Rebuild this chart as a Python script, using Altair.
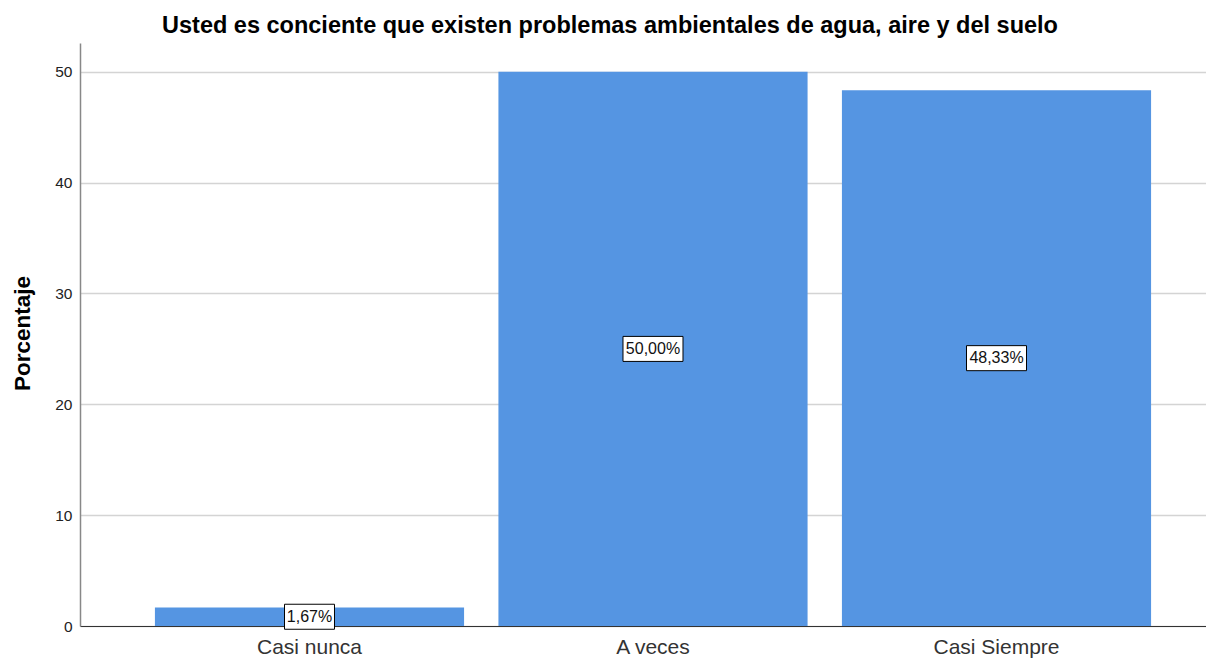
import altair as alt
import pandas as pd

categories = ["Casi nunca", "A veces", "Casi Siempre"]
values = [1.67, 50.00, 48.33]
labels = ["1,67%", "50,00%", "48,33%"]

df = pd.DataFrame({"cat": categories, "val": values, "lab": labels})
df["mid"] = df["val"] / 2

FONT = "Liberation Sans"

x = alt.X("cat:N", sort=categories,
          scale=alt.Scale(paddingInner=0.1, paddingOuter=0.189, align=0.577),
          axis=alt.Axis(title=None, labelAngle=0, labelFontSize=21, labelColor="#333333",
                        labelFont=FONT, ticks=False, domainColor="#333333", domainWidth=1,
                        labelPadding=10, grid=False))

y = alt.Y("val:Q", scale=alt.Scale(domain=[0, 52.6], nice=False),
          axis=alt.Axis(title="Porcentaje", values=[0, 10, 20, 30, 40, 50], ticks=False,
                        labelFontSize=15.5, labelColor="#222222", labelFont=FONT, labelPadding=8,
                        titleFont=FONT, titleFontSize=22.5, titleFontWeight="bold", titleColor="#000000",
                        titleX=-51, titleY=290, titleBaseline="alphabetic", titleAlign="center",
                        titleAngle=270,
                        domainColor="#888888", domainWidth=1.5,
                        grid=True, gridColor="#d4d4d4", gridWidth=1.5))

bars = alt.Chart(df).mark_bar(color="#5595E2").encode(x=x, y=y)

box_short = "M-0.833,-0.417L0.833,-0.417L0.833,0.417L-0.833,0.417Z"
box_long = "M-1,-0.417L1,-0.417L1,0.417L-1,0.417Z"

box = alt.Chart(df).mark_point(
    size=3600, filled=True, fill="white", stroke="black", strokeWidth=1, opacity=1
).encode(
    x=alt.X("cat:N", sort=categories), y=alt.Y("mid:Q"),
    shape=alt.Shape("lab:N", scale=alt.Scale(domain=labels, range=[box_short, box_long, box_long]),
                    legend=None))

text = alt.Chart(df).mark_text(font=FONT, fontSize=16, color="#111111").encode(
    x=alt.X("cat:N", sort=categories), y=alt.Y("mid:Q"), text="lab:N")

chart = alt.layer(bars, box, text).properties(
    width=1126, height=583,
    title=alt.TitleParams("Usted es conciente que existen problemas ambientales de agua, aire y del suelo",
                          font=FONT, fontSize=23.5, fontWeight="bold", color="#000000",
                          anchor="middle", dx=-33, offset=6),
    autosize=alt.AutoSizeParams(type="none"),
    padding={"left": 72, "top": 35, "right": 0, "bottom": 33},
).configure_view(stroke=None)

chart.save("out.html", embed_options={"renderer": "svg", "actions": False})
